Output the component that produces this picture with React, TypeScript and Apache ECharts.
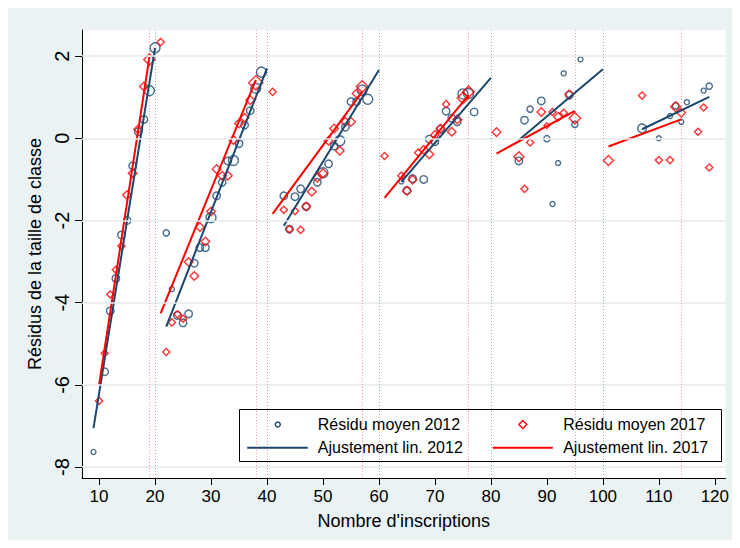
import React, { useEffect, useRef } from "react";
import * as echarts from "echarts";

const xTicks = [10, 20, 30, 40, 50, 60, 70, 80, 90, 100, 110, 120];
const yTicks = [-8, -6, -4, -2, 0, 2];
const cut2012 = [20, 40, 60, 80, 100];
const cut2017 = [19, 38, 57, 76, 95, 114];

// [enrolment, mean residual, weight]
const resid2012: number[][] = [
  [9, -7.63, 1], [11, -5.68, 2], [12, -4.2, 2], [13, -3.41, 2], [14, -2.35, 2], [15, -2.0, 2],
  [16, -0.67, 2], [17, 0.16, 2], [18, 0.46, 2], [19, 1.16, 3], [20, 2.2, 3],
  [22, -2.3, 1.5], [23, -3.67, 1], [24, -4.31, 2], [25, -4.49, 2], [26, -4.27, 2], [27, -3.04, 2],
  [28, -2.66, 2], [29, -2.66, 2], [30, -1.93, 3], [31, -1.4, 2], [32, -1.07, 2], [33, -0.55, 2],
  [34, -0.54, 3], [35, -0.13, 2], [36, 0.32, 2], [37, 0.67, 2], [38, 1.22, 3], [39, 1.61, 3],
  [43, -1.4, 2], [44, -2.21, 2], [45, -1.42, 2], [46, -1.23, 2], [47, -1.66, 2], [49, -1.07, 2],
  [50, -0.84, 3], [51, -0.62, 2], [52, -0.19, 2], [53, -0.06, 3], [54, 0.27, 2], [55, 0.89, 2],
  [56, 0.89, 2], [57, 1.17, 3], [58, 0.95, 3],
  [64, -1.05, 1], [65, -1.27, 2], [66, -0.98, 2], [68, -1.0, 2], [69, -0.02, 2], [70, -0.08, 2],
  [71, 0.22, 2], [72, 0.66, 2], [73, 0.49, 2], [74, 0.4, 2], [75, 1.08, 3], [76, 1.09, 3], [77, 0.64, 2],
  [85, -0.55, 2], [86, 0.44, 2], [87, 0.71, 1.5], [89, 0.91, 2], [90, -0.01, 1.5], [91, -1.6, 1],
  [92, -0.6, 1], [93, 1.58, 1], [94, 1.05, 2], [95, 0.34, 1.5], [96, 1.92, 1],
  [107, 0.24, 2.5], [110, 0.0, 1], [112, 0.54, 1], [113, 0.79, 1.5], [114, 0.4, 1], [115, 0.88, 1],
  [118, 1.16, 1], [119, 1.27, 1.5],
];

const resid2017: number[][] = [
  [10, -6.39, 1.5], [11, -5.23, 1.5], [12, -3.8, 1.5], [13, -3.2, 1.5], [14, -2.62, 1.5], [15, -1.38, 2],
  [16, -0.85, 2], [17, 0.22, 2], [18, 1.26, 2], [19, 1.92, 3], [21, 2.34, 1.5],
  [22, -5.2, 1.5], [23, -4.48, 1.5], [24, -4.28, 1.5], [25, -4.39, 1.5], [26, -3.01, 2], [27, -3.35, 2],
  [28, -2.16, 2], [29, -2.51, 2], [30, -1.78, 2], [31, -0.75, 2], [32, -0.91, 2], [33, -0.91, 2],
  [34, -0.04, 2], [35, 0.36, 2], [36, 0.5, 2], [37, 0.93, 2], [38, 1.35, 4],
  [41, 1.13, 1.5], [43, -1.74, 1.5], [44, -2.21, 1.5], [45, -1.77, 1.5], [46, -2.23, 1.5], [47, -1.66, 2],
  [48, -1.3, 2], [49, -0.96, 2], [50, -0.85, 2], [51, -0.06, 2], [52, 0.24, 2], [53, -0.3, 2],
  [54, 0.4, 2], [55, 0.4, 2], [56, 1.09, 2], [57, 1.26, 3],
  [61, -0.43, 1.5], [64, -0.91, 1.5], [65, -1.28, 2], [66, -1.01, 2], [67, -0.35, 1.5], [68, -0.28, 2],
  [69, -0.39, 2], [70, 0.08, 2], [71, 0.24, 2], [72, 0.83, 1.5], [73, 0.16, 2], [74, 0.46, 2],
  [75, 0.98, 3], [76, 1.13, 3],
  [81, 0.15, 2], [85, -0.45, 2.5], [86, -1.23, 1.5], [87, -0.1, 1.5], [89, 0.64, 2], [90, 0.31, 1],
  [91, 0.64, 1.5], [92, 0.52, 2], [93, 0.62, 1.5], [94, 1.07, 2], [95, 0.49, 3],
  [101, -0.54, 2.5], [107, 1.04, 1.5], [110, -0.53, 1.5], [112, -0.53, 1.5], [113, 0.77, 2.5],
  [114, 0.62, 2], [117, 0.16, 1.5], [118, 0.75, 1.5], [119, -0.71, 1.5],
];

const fit2012: number[][][] = [
  [[9, -7.05], [20, 2.2]],
  [[22, -4.58], [40, 1.7]],
  [[43, -2.13], [60, 1.66]],
  [[64, -1.06], [80, 1.47]],
  [[85, -0.04], [100, 1.68]],
  [[107, 0.22], [119, 1.01]],
];
const fit2017: number[][][] = [
  [[10, -6.0], [19, 1.98]],
  [[21, -4.26], [38, 1.42]],
  [[41, -1.84], [57, 1.13]],
  [[61, -1.45], [76, 1.05]],
  [[81, -0.37], [95, 0.67]],
  [[101, -0.2], [114, 0.46]],
];

const BLUE = "#1A476F";
const RED = "#FF0000";
const FONT = "Liberation Sans, Arial, sans-serif";

const sizeOf = (w: number) => 2.5 + w * 2.5;

export default function App() {
  const ref = useRef<HTMLDivElement>(null);
  useEffect(() => {
    if (!ref.current) return;
    const chart = echarts.init(ref.current, null, { renderer: "svg" });
    const series: any[] = [];
    series.push({
      type: "scatter",
      data: [],
      silent: true,
      z: 1,
      markLine: {
        silent: true,
        symbol: "none",
        label: { show: false },
        lineStyle: { color: "#E4EDEF", width: 1.5, type: "solid" },
        data: yTicks.map((v) => ({ yAxis: v })),
      },
    });
    series.push({
      type: "scatter",
      data: [],
      silent: true,
      z: 1,
      markLine: {
        silent: true,
        symbol: "none",
        label: { show: false },
        lineStyle: { color: "rgba(26,71,111,0.45)", width: 1, type: [1, 2] },
        data: cut2012.map((v) => ({ xAxis: v })),
      },
    });
    series.push({
      type: "scatter",
      data: [],
      silent: true,
      z: 1,
      markLine: {
        silent: true,
        symbol: "none",
        label: { show: false },
        lineStyle: { color: "rgba(255,0,0,0.4)", width: 1, type: [1, 2] },
        data: cut2017.map((v) => ({ xAxis: v })),
      },
    });
    series.push({
      type: "scatter",
      data: resid2012,
      symbol: "circle",
      symbolSize: (v: number[]) => sizeOf(v[2]),
      itemStyle: { color: "rgba(0,0,0,0)", borderColor: BLUE, borderWidth: 1.4 },
      z: 3,
    });
    series.push({
      type: "scatter",
      data: resid2017,
      symbol: "diamond",
      symbolSize: (v: number[]) => sizeOf(v[2]) * 1.15,
      itemStyle: { color: "rgba(0,0,0,0)", borderColor: RED, borderWidth: 1.4 },
      z: 3,
    });
    fit2012.forEach((seg) =>
      series.push({
        type: "line",
        data: seg,
        showSymbol: false,
        symbol: "none",
        lineStyle: { color: BLUE, width: 2 },
        z: 4,
      })
    );
    fit2017.forEach((seg) =>
      series.push({
        type: "line",
        data: seg,
        showSymbol: false,
        symbol: "none",
        lineStyle: { color: RED, width: 2 },
        z: 4,
      })
    );

    const lx = 231;
    const ly = 401;
    chart.setOption({
      animation: false,
      backgroundColor: "#EAF2F3",
      textStyle: { fontFamily: FONT },
      grid: {
        left: 74,
        top: 22,
        right: 2,
        bottom: 62,
        show: true,
        backgroundColor: "#FFFFFF",
        borderWidth: 0,
      },
      xAxis: {
        type: "value",
        min: 6.95,
        max: 121.9,
        name: "Nombre d'inscriptions",
        nameLocation: "middle",
        nameGap: 34,
        nameTextStyle: { color: "#000", fontSize: 18, fontFamily: FONT },
        axisLine: { show: true, onZero: false, lineStyle: { color: "#000", width: 1 } },
        axisTick: { show: true, length: 7, customValues: xTicks, lineStyle: { color: "#000" } },
        axisLabel: { customValues: xTicks, color: "#000", fontSize: 17, margin: 10, fontFamily: FONT },
        splitLine: { show: false },
      },
      yAxis: {
        type: "value",
        min: -8.265,
        max: 2.635,
        name: "Résidus de la taille de classe",
        nameLocation: "middle",
        nameGap: 36,
        nameTextStyle: { color: "#000", fontSize: 18, fontFamily: FONT },
        axisLine: { show: true, onZero: false, lineStyle: { color: "#000", width: 1 } },
        axisTick: { show: true, length: 7, customValues: yTicks, lineStyle: { color: "#000" } },
        axisLabel: { customValues: yTicks, rotate: 90, color: "#000", fontSize: 20, margin: 10, fontFamily: FONT },
        splitLine: { show: false },
      },
      graphic: [
        {
          type: "group",
          left: lx,
          top: ly,
          children: [
            { type: "rect", shape: { x: 0, y: 0, width: 482, height: 52 }, style: { fill: "#fff", stroke: "#000", lineWidth: 1 } },
            { type: "circle", shape: { cx: 38.3, cy: 15, r: 2.5 }, style: { fill: "none", stroke: BLUE, lineWidth: 1.4 } },
            { type: "text", x: 78.3, y: 15, style: { text: "Résidu moyen 2012", fontSize: 16, fontFamily: FONT, fill: "#000", verticalAlign: "middle" } },
            { type: "polygon", shape: { points: [[283.3, 11], [287.3, 15], [283.3, 19], [279.3, 15]] }, style: { fill: "none", stroke: RED, lineWidth: 1.4 } },
            { type: "text", x: 323.7, y: 15, style: { text: "Résidu moyen 2017", fontSize: 16, fontFamily: FONT, fill: "#000", verticalAlign: "middle" } },
            { type: "line", shape: { x1: 7.7, y1: 38.3, x2: 68.3, y2: 38.3 }, style: { stroke: BLUE, lineWidth: 2 } },
            { type: "text", x: 78.3, y: 38.3, style: { text: "Ajustement lin. 2012", fontSize: 16, fontFamily: FONT, fill: "#000", verticalAlign: "middle" } },
            { type: "line", shape: { x1: 253.3, y1: 38.3, x2: 313.3, y2: 38.3 }, style: { stroke: RED, lineWidth: 2 } },
            { type: "text", x: 323.7, y: 38.3, style: { text: "Ajustement lin. 2017", fontSize: 16, fontFamily: FONT, fill: "#000", verticalAlign: "middle" } },
          ],
        },
      ],
      series,
    });
    return () => chart.dispose();
  }, []);
  return <div ref={ref} style={{ width: 724, height: 532 }} />;
}
